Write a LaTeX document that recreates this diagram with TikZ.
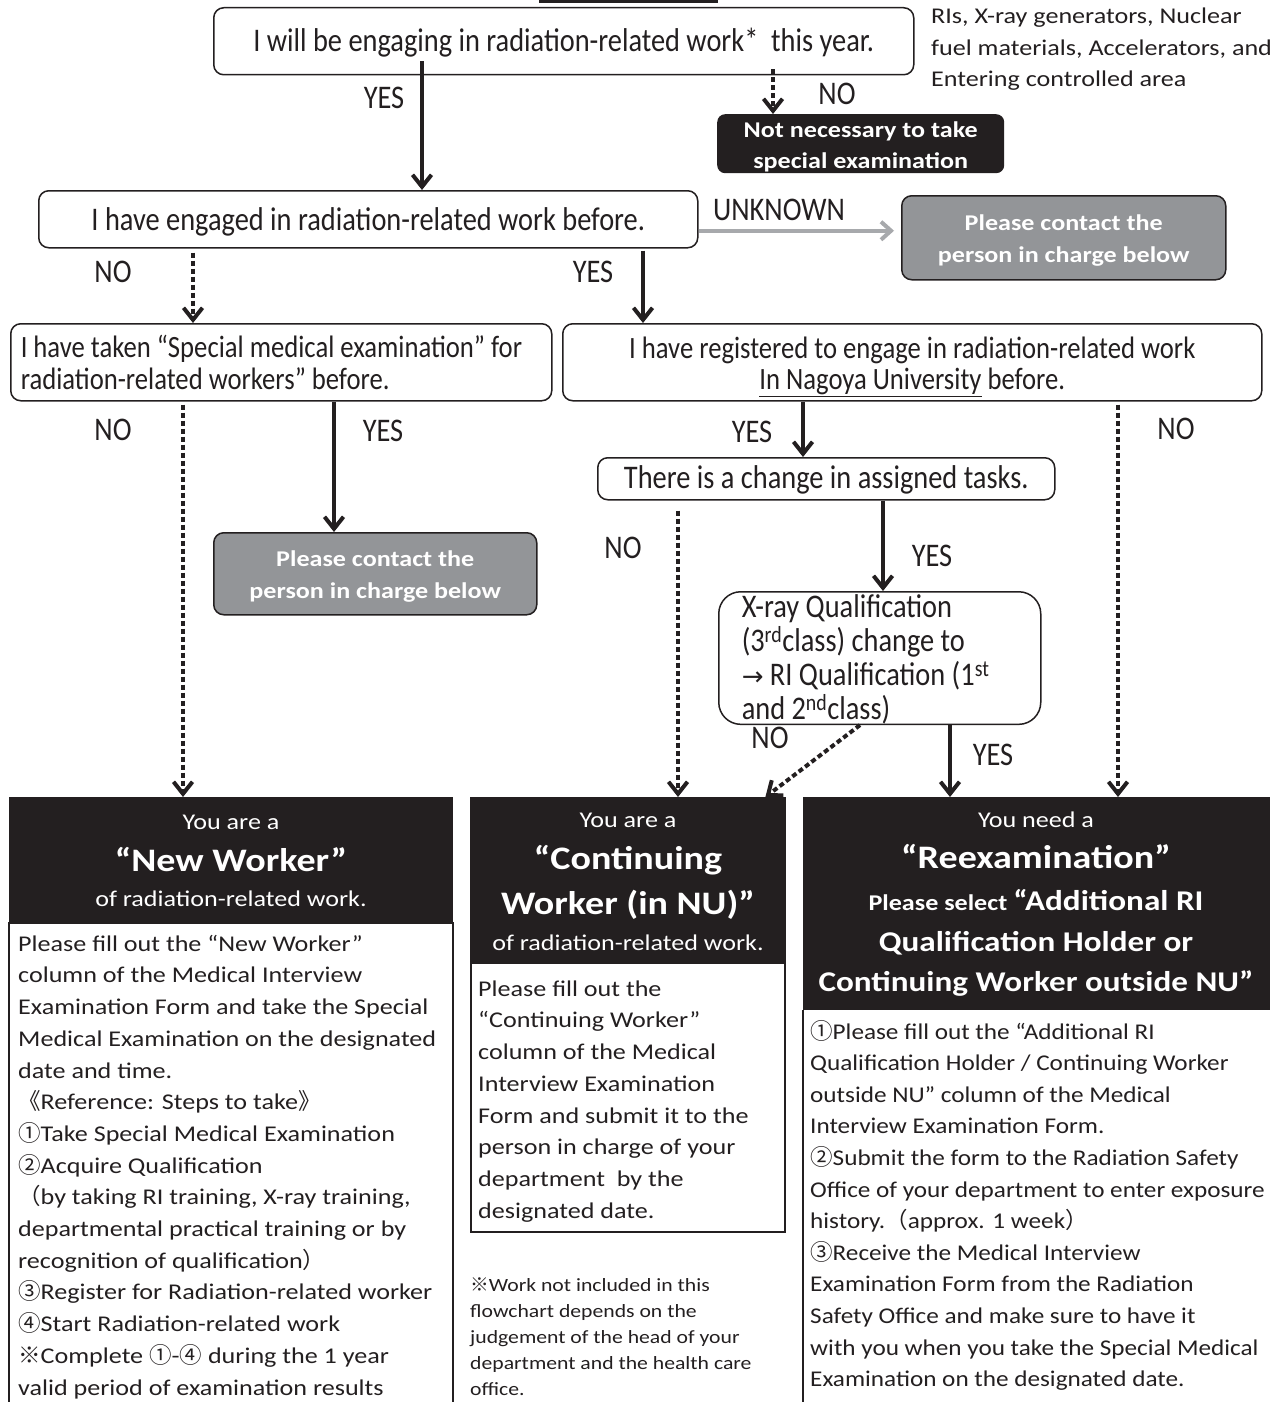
\documentclass[tikz,border=0pt]{standalone}
\usepackage{fontspec}
\usetikzlibrary{arrows.meta}
\setmainfont{Carlito}
\newfontfamily\topfam[FakeStretch=0.86]{Carlito}
\newfontfamily\botfam[FakeStretch=1.16]{Carlito}
\newfontfamily\botfamr[FakeStretch=1.12]{Carlito}
\newfontfamily\cjkfam{Noto Sans CJK JP}
\newfontfamily\djvfam{DejaVu Sans}
\newcommand\mytop{\topfam\fontsize{33}{32}\selectfont}
\newcommand\mytopsm{\topfam\fontsize{31}{32}\selectfont}
\newcommand\mybody{\botfam\fontsize{22.5}{31.7}\selectfont}
\newcommand\mybodyr{\botfamr\fontsize{22.5}{31.6}\selectfont}
\newcommand\mynote{\botfam\fontsize{18.7}{26}\selectfont}
\newcommand\myhead{\botfam\bfseries\fontsize{32.8}{44}\selectfont}
\newcommand\myheadsm{\botfam\bfseries\fontsize{28.6}{40}\selectfont}
\newcommand\cj[1]{{\cjkfam #1}}
\definecolor{ink}{HTML}{231F20}
\definecolor{greybox}{HTML}{939598}
\definecolor{greyarrow}{HTML}{A7A9AC}
\tikzset{
  qbox/.style={draw=ink, line width=1.5pt, rounded corners=10pt, fill=white, inner sep=0pt, font=\mytop, text=ink, anchor=north west},
  gbox/.style={draw=ink, line width=1.5pt, rounded corners=10pt, fill=greybox, inner sep=0pt, text=white, font=\mybody\bfseries, align=center, anchor=north west},
  kbox/.style={fill=ink, rounded corners=8pt, inner sep=0pt, text=white, font=\mybody\bfseries, align=center, anchor=north west},
  hbox/.style={fill=ink, inner sep=0pt, anchor=north west},
  frame/.style={draw=ink, line width=1.5pt},
  lab/.style={font=\mytop, text=ink, inner sep=0pt},
  htxt/.style={text=white, inner sep=0pt, anchor=base},
  btxt/.style={text=ink, inner sep=0pt, anchor=north west, align=left},
  sarr/.style={draw=ink, line width=4pt, -{Straight Barb[length=12pt,width=19pt]}},
  darr/.style={draw=ink, line width=4pt, dash pattern=on 5pt off 3pt, -{Straight Barb[length=12pt,width=19pt]}},
  garr/.style={draw=greyarrow, line width=4pt, -{Straight Barb[length=10pt,width=18pt]}},
}
\begin{document}
\begin{tikzpicture}[x=1pt,y=1pt]
\useasboundingbox (0,0) rectangle (1269,-1402);
\fill[ink] (539,0) rectangle (718,-3);

% decision boxes
\node[qbox, minimum width=700pt, minimum height=67pt] (q1) at (213,-7) {\rule{0pt}{26pt}I will be engaging in radiation-related work*\ \ this year.};
\node[btxt, font=\mybody, text=ink] (fn) at (931,-1) {\strut RIs, X-ray generators, Nuclear\\fuel materials, Accelerators, and\\Entering controlled area};
\node[kbox, minimum width=287pt, minimum height=59pt] (nn) at (717,-114) {\rule{0pt}{22pt}Not necessary to take\\[-1pt]special examination};
\node[qbox, minimum width=659pt, minimum height=57pt] (q2) at (38,-190) {\rule{0pt}{28pt}I have engaged in radiation-related work before.};
\node[gbox, minimum width=324pt, minimum height=84pt] (g1) at (901,-195) {\rule{0pt}{21pt}Please contact the\\person in charge below};
\node[qbox, text width=521pt, inner xsep=10pt, align=flush left, minimum height=77pt, font=\mytopsm] (q3) at (10,-323) {\mbox{I have taken “Special medical examination” for}\\radiation-related workers” before.};
\node[qbox, minimum width=699pt, minimum height=77pt, align=center, font=\topfam\fontsize{31}{31}\selectfont] (q4) at (562,-323) {\rule{0pt}{31pt}I have registered to engage in radiation-related work\\\underline{In Nagoya University} before.};
\node[gbox, minimum width=323pt, minimum height=82pt] (g2) at (213,-532) {\rule{0pt}{21pt}Please contact the\\person in charge below};
\node[qbox, minimum width=457pt, minimum height=42pt] (q5) at (597,-457) {\rule{0pt}{26pt}There is a change in assigned tasks.};
\node[qbox, rounded corners=22pt, text width=276pt, inner xsep=23pt, align=flush left, minimum height=132pt, font=\topfam\fontsize{33}{34}\selectfont] (q6) at (718,-591) {\rule{0pt}{26pt}X-ray Qualification\\(3\textsuperscript{rd}class) change to\\{\djvfam\fontsize{26}{34}\selectfont →} RI Qualification (1\textsuperscript{st}\\and 2\textsuperscript{nd}class)};

% result headers
\node[hbox, minimum width=444pt, minimum height=126pt] (hL) at (9,-797) {};
\node[hbox, minimum width=316pt, minimum height=166pt] (hM) at (470,-797) {};
\node[hbox, minimum width=470pt, minimum height=213pt] (hR) at (803,-797) {};

\node[htxt, font=\mybody] (hL1) at (231,-829) {You are a};
\node[htxt, font=\myhead] (hL2) at (231,-871) {“New Worker”};
\node[htxt, font=\mybody] (hL3) at (231,-906) {of radiation-related work.};

\node[htxt, font=\mybody] (hM1) at (628,-827) {You are a};
\node[htxt, font=\myhead] (hM2) at (628,-869.5) {“Continuing};
\node[htxt, font=\myhead] (hM3) at (628,-914.5) {Worker (in NU)”};
\node[htxt, font=\mybody] (hM4) at (628,-950) {of radiation-related work.};

\node[htxt, font=\mybody] (hR1) at (1036,-827) {You need a};
\node[htxt, font=\myhead] (hR2) at (1036,-868) {“Reexamination”};
\node[htxt, font=\myheadsm] (hR3) at (1036,-910) {{\mybody\bfseries Please select }“Additional RI};
\node[htxt, font=\myheadsm] (hR4) at (1036,-951) {Qualification Holder or};
\node[htxt, font=\myheadsm] (hR5) at (1036,-991) {Continuing Worker outside NU”};

% result bodies
\draw[frame] (9,-1410) -- (9,-923) -- (453,-923) -- (453,-1410);
\draw[frame] (471,-963) rectangle (785,-1232);
\draw[frame] (803,-1010) -- (803,-1410);

\node[btxt, font=\mybody] (bL) at (18,-928.8) {\strut Please fill out the “New Worker”\\
column of the Medical Interview\\
Examination Form and take the Special\\
Medical Examination on the designated\\
date and time.\\
\cj{《}Reference: Steps to take\cj{》}\\
\cj{①}Take Special Medical Examination\\
\cj{②}Acquire Qualification\\
\cj{（}by taking RI training, X-ray training,\\
departmental practical training or by\\
recognition of qualification\cj{）}\\
\cj{③}Register for Radiation-related worker\\
\cj{④}Start Radiation-related work\\
\cj{※}Complete \cj{①}-\cj{④} during the 1 year\\
valid period of examination results};

\node[btxt, font=\mybody] (bM) at (478,-973.8) {\strut Please fill out the\\
“Continuing Worker”\\
column of the Medical\\
Interview Examination\\
Form and submit it to the\\
person in charge of your\\
department\ \ by the\\
designated date.};

\node[btxt, font=\mynote] (note) at (470,-1272.8) {\strut\cj{※}Work not included in this\\
flowchart depends on the\\
judgement of the head of your\\
department and the health care\\
office.};

\node[btxt, font=\mybodyr] (bR) at (810,-1016.8) {\strut\cj{①}Please fill out the “Additional RI\\
Qualification Holder / Continuing Worker\\
outside NU” column of the Medical\\
Interview Examination Form.\\
\cj{②}Submit the form to the Radiation Safety\\
Office of your department to enter exposure\\
history.\cj{（}approx. 1 week\cj{）}\\
\cj{③}Receive the Medical Interview\\
Examination Form from the Radiation\\
Safety Office and make sure to have it\\
with you when you take the Special Medical\\
Examination on the designated date.};

% connectors
\draw[sarr] ([xshift=209pt,yshift=14pt]q1.south west) -- ([xshift=384pt]q2.north west);
\draw[darr] ([xshift=560pt,yshift=6pt]q1.south west) -- ([xshift=56pt]nn.north west);
\draw[garr] ([yshift=-11.5pt]q2.east) -- ([xshift=-7pt,yshift=7pt]g1.west);
\draw[darr] ([xshift=155pt,yshift=-4pt]q2.south west) -- ([xshift=183pt]q3.north west);
\draw[sarr] ([xshift=605pt,yshift=-2pt]q2.south west) -- ([xshift=81pt]q4.north west);
\draw[darr] ([xshift=173pt,yshift=-3pt]q3.south west) -- ([xshift=174pt]hL.north west);
\draw[sarr] ([xshift=324pt]q3.south west) -- ([xshift=121pt]g2.north west);
\draw[sarr] ([xshift=241pt]q4.south west) -- ([xshift=206pt]q5.north west);
\draw[darr] ([xshift=556pt,yshift=-3pt]q4.south west) -- ([xshift=315pt]hR.north west);
\draw[darr] ([xshift=81pt,yshift=-10pt]q5.south west) -- ([xshift=208pt]hM.north west);
\draw[sarr] ([xshift=286pt]q5.south west) -- ([xshift=165pt]q6.north west);
\draw[darr] ([xshift=142pt]q6.south west) -- ([xshift=-21pt]hM.north east);
\draw[sarr] ([xshift=232pt]q6.south west) -- ([xshift=147pt]hR.north west);

% labels
\node[lab] (l1) at (384,-98) {YES};
\node[lab] (l2) at (837,-94) {NO};
\node[lab] (l3) at (779,-210) {UNKNOWN};
\node[lab] (l4) at (113,-272) {NO};
\node[lab] (l5) at (593,-272) {YES};
\node[lab] (l6) at (113,-430) {NO};
\node[lab] (l7) at (383,-431) {YES};
\node[lab] (l8) at (752,-432) {YES};
\node[lab] (l9) at (1176,-429) {NO};
\node[lab] (l10) at (623,-548) {NO};
\node[lab] (l11) at (932,-556) {YES};
\node[lab] (l12) at (770,-738) {NO};
\node[lab] (l13) at (993,-755) {YES};
\end{tikzpicture}
\end{document}
